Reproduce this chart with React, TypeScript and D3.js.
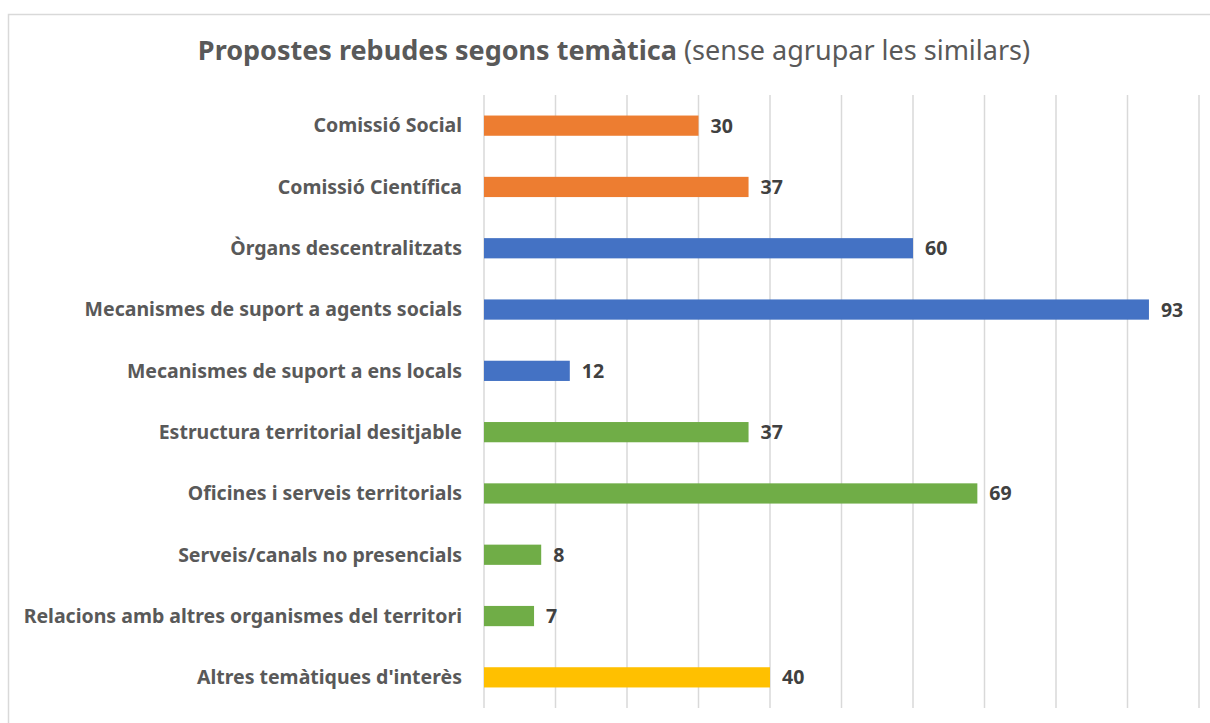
import * as d3 from "d3";
import { useEffect, useRef } from "react";

const categories = [
  "Comissió Social",
  "Comissió Científica",
  "Òrgans descentralitzats",
  "Mecanismes de suport a agents socials",
  "Mecanismes de suport a ens locals",
  "Estructura territorial desitjable",
  "Oficines i serveis territorials",
  "Serveis/canals no presencials",
  "Relacions amb altres organismes del territori",
  "Altres temàtiques d'interès",
];
const values = [30, 37, 60, 93, 12, 37, 69, 8, 7, 40];
const groups = ["com", "com", "sup", "sup", "sup", "ter", "ter", "ter", "ter", "alt"];
const groupColors: Record<string, string> = {
  com: "#ED7D31",
  sup: "#4472C4",
  ter: "#70AD47",
  alt: "#FFC000",
};
const xTicks = d3.range(0, 101, 10);

const W = 1210;
const H = 723;
const FONT = "'Noto Sans', 'Open Sans', sans-serif";

const App = () => {
  const svgRef = useRef<SVGSVGElement>(null);

  useEffect(() => {
    const svgEl = svgRef.current;
    if (!svgEl) return;
    const svg = d3.select(svgEl);
    svg.selectAll("*").remove();

    const margin = { top: 95, left: 484, right: 11, bottom: 15 };
    const x = d3.scaleLinear().domain([0, 100]).range([margin.left, W - margin.right]);
    const y = d3
      .scaleBand<string>()
      .domain(categories)
      .range([margin.top, H - margin.bottom])
      .paddingInner(0.67)
      .paddingOuter(0.335);

    // chart frame
    svg
      .append("rect")
      .attr("x", 8.5)
      .attr("y", 14.5)
      .attr("width", W + 20)
      .attr("height", H + 20)
      .attr("fill", "#fff")
      .attr("stroke", "#d9d9d9")
      .attr("stroke-width", 1.5);

    // title
    const title = svg
      .append("text")
      .attr("x", 614)
      .attr("y", 60)
      .attr("text-anchor", "middle")
      .attr("fill", "#595959")
      .style("font-family", FONT)
      .style("font-size", "27px");
    title.append("tspan").attr("font-weight", 700).text("Propostes rebudes segons temàtica");
    title.append("tspan").attr("font-weight", 400).text(" (sense agrupar les similars)");

    // grid
    svg
      .selectAll("line.grid")
      .data(xTicks)
      .enter()
      .append("line")
      .attr("x1", (t) => x(t))
      .attr("x2", (t) => x(t))
      .attr("y1", margin.top)
      .attr("y2", H - margin.bottom)
      .attr("stroke", "#d9d9d9")
      .attr("stroke-width", 1.5);

    // bars
    svg
      .selectAll("rect.bar")
      .data(categories)
      .enter()
      .append("rect")
      .attr("x", x(0))
      .attr("y", (c) => y(c)!)
      .attr("width", (c, i) => x(values[i]) - x(0))
      .attr("height", y.bandwidth())
      .attr("fill", (c, i) => groupColors[groups[i]]);

    // category labels
    svg
      .selectAll("text.cat")
      .data(categories)
      .enter()
      .append("text")
      .attr("x", x(0) - 22)
      .attr("y", (c) => y(c)! + y.bandwidth() / 2)
      .attr("dy", "0.35em")
      .attr("text-anchor", "end")
      .attr("fill", "#595959")
      .style("font-family", FONT)
      .style("font-size", "19.5px")
      .style("font-weight", 700)
      .text((c) => c);

    // value labels
    svg
      .selectAll("text.val")
      .data(categories)
      .enter()
      .append("text")
      .attr("x", (c, i) => x(values[i]) + 12)
      .attr("y", (c) => y(c)! + y.bandwidth() / 2)
      .attr("dy", "0.36em")
      .attr("fill", "#404040")
      .style("font-family", FONT)
      .style("font-size", "19.5px")
      .style("font-weight", 700)
      .text((c, i) => String(values[i]));
  }, []);

  return (
    <svg
      ref={svgRef}
      width={W}
      height={H}
      style={{ position: "absolute", left: 0, top: 0, display: "block" }}
    />
  );
};

export default App;
